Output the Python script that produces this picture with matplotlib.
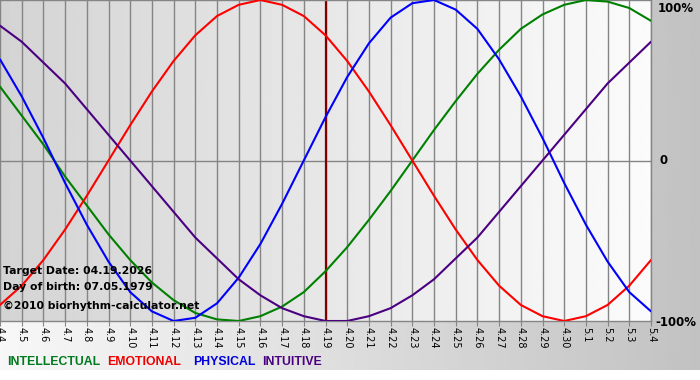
import numpy as np
import matplotlib
matplotlib.use("Agg")
import matplotlib.pyplot as plt

# days 04.04 .. 05.04
dates = ["4.4", "4.5", "4.6", "4.7", "4.8", "4.9", "4.10", "4.11", "4.12", "4.13",
         "4.14", "4.15", "4.16", "4.17", "4.18", "4.19", "4.20", "4.21", "4.22", "4.23",
         "4.24", "4.25", "4.26", "4.27", "4.28", "4.29", "4.30", "5.1", "5.2", "5.3", "5.4"]

physical = [0.63, 0.40, 0.14, -0.14, -0.40, -0.63, -0.82, -0.94, -1.00, -0.98,
            -0.89, -0.73, -0.52, -0.27, 0.00, 0.27, 0.52, 0.73, 0.89, 0.98,
            1.00, 0.94, 0.82, 0.63, 0.40, 0.14, -0.14, -0.40, -0.63, -0.82, -0.94]
emotional = [-0.90, -0.78, -0.62, -0.43, -0.22, 0.00, 0.22, 0.43, 0.62, 0.78,
             0.90, 0.97, 1.00, 0.97, 0.90, 0.78, 0.62, 0.43, 0.22, 0.00,
             -0.22, -0.43, -0.62, -0.78, -0.90, -0.97, -1.00, -0.97, -0.90, -0.78, -0.62]
intellectual = [0.46, 0.28, 0.10, -0.10, -0.28, -0.46, -0.62, -0.76, -0.87, -0.95,
                -0.99, -1.00, -0.97, -0.91, -0.82, -0.69, -0.54, -0.37, -0.19, 0.00,
                0.19, 0.37, 0.54, 0.69, 0.82, 0.91, 0.97, 1.00, 0.99, 0.95, 0.87]
intuitive = [0.84, 0.74, 0.61, 0.48, 0.32, 0.16, 0.00, -0.16, -0.32, -0.48,
             -0.61, -0.74, -0.84, -0.92, -0.97, -1.00, -1.00, -0.97, -0.92, -0.84,
             -0.74, -0.61, -0.48, -0.32, -0.16, 0.00, 0.16, 0.32, 0.48, 0.61, 0.74]

target = "4.19"
W, H = 700, 380

fig = plt.figure(figsize=(7, 3.8), dpi=100)

# outer background gradient (white strip at the very bottom)
bg = fig.add_axes([0, 0, 1, 1], zorder=-10)
grad = np.linspace(0.97, 0.76, 256).reshape(1, -1)
bg.imshow(np.repeat(grad, 2, axis=0), cmap="gray", vmin=0, vmax=1,
          aspect="auto", extent=[0, 1, 10 / H, 1])
bg.set_xlim(0, 1)
bg.set_ylim(0, 1)
bg.axis("off")

# plot area: x 0..651, y 0..321 px
ax = fig.add_axes([0, 1 - 321 / H, 651 / W, 321 / H])
x = np.arange(len(dates))
ax.set_xlim(0, len(dates) - 1)
ax.set_ylim(-1, 1)
pgrad = np.linspace(0.83, 0.985, 256).reshape(1, -1)
ax.imshow(np.repeat(pgrad, 2, axis=0), cmap="gray", vmin=0, vmax=1,
          aspect="auto", extent=[0, len(dates) - 1, -1, 1], zorder=0)

for xi in x:
    ax.axvline(xi, color="#858585", lw=1, zorder=1)
ax.axhline(0, color="#858585", lw=1, zorder=1)
ax.axvline(dates.index(target), color="#800000", lw=1.6, zorder=2)

kw = dict(lw=1.5, zorder=3, solid_joinstyle="round", solid_capstyle="round")
ax.plot(x, intellectual, color="#008000", **kw)
ax.plot(x, emotional, color="#ff0000", **kw)
ax.plot(x, physical, color="#0000ff", **kw)
ax.plot(x, intuitive, color="#4b0082", **kw)

for s in ax.spines.values():
    s.set_color("#858585")
    s.set_linewidth(1)
ax.spines["left"].set_visible(False)
ax.set_yticks([])
ax.set_xticks(x)
ax.set_xticklabels(dates, rotation=270, fontsize=7, family="DejaVu Sans")
ax.tick_params(axis="x", length=3.5, color="#858585", pad=1)


def px(xp, yp):
    return xp / W, 1 - yp / H


info = ["Target Date: 04.19.2026", "Day of birth: 07.05.1979",
        "\u00a92010 biorhythm-calculator.net"]
for txt, yp in zip(info, [271, 287, 306]):
    fig.text(*px(3, yp), txt, fontsize=7.8, fontweight="bold",
             va="center", ha="left", zorder=5)

fig.text(*px(658, 2), "100%", fontsize=8.5, fontweight="bold", va="top", ha="left")
fig.text(*px(659, 161), "0", fontsize=8.5, fontweight="bold", va="center", ha="left")
fig.text(*px(655, 322), "-100%", fontsize=8.5, fontweight="bold", va="center", ha="left")

legend = [("INTELLECTUAL", "#007a1e", 7), ("EMOTIONAL", "#ee0000", 107),
          ("PHYSICAL", "#0000dd", 193), ("INTUITIVE", "#4b0082", 262)]
for name, col, xp in legend:
    fig.text(*px(xp, 362), name, fontsize=8.8, fontweight="bold", color=col,
             va="center", ha="left", family="Liberation Sans")

fig.savefig("out.png", dpi=100)
